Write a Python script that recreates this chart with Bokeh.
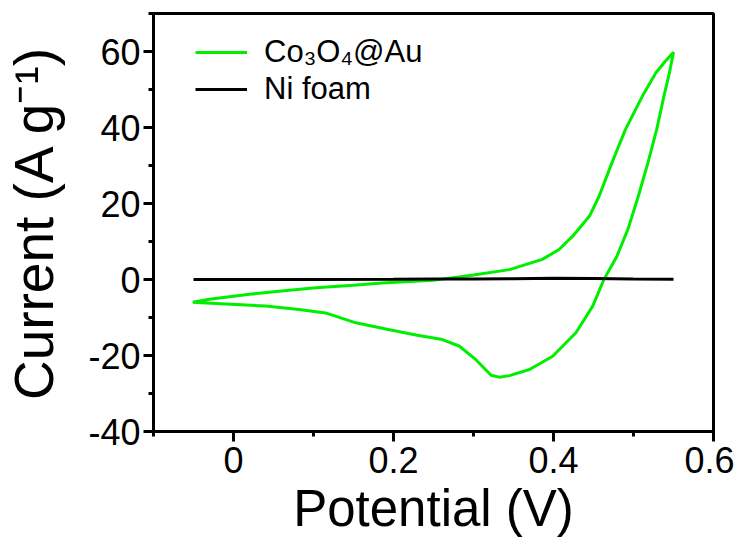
from bokeh.plotting import figure
from bokeh.models import FixedTicker, Legend, LegendItem, Range1d
from bokeh.embed import file_html
from bokeh.resources import INLINE

# Co3O4@Au cyclic voltammogram (anodic sweep, then cathodic sweep back)
co_x = [-0.051, -0.03, 0.02, 0.06, 0.103, 0.15, 0.186, 0.22, 0.249, 0.261, 0.30,
        0.345, 0.386, 0.407, 0.424, 0.445, 0.457, 0.473, 0.490, 0.511, 0.528, 0.540, 0.550,
        0.545, 0.538, 0.529, 0.518, 0.506, 0.493, 0.479, 0.463, 0.449, 0.428,
        0.399, 0.370, 0.345, 0.332, 0.322, 0.303, 0.282, 0.261, 0.228,
        0.195, 0.153, 0.115, 0.082, 0.04, -0.022, -0.051]
co_y = [-6.0, -5.2, -3.9, -3.0, -2.2, -1.5, -0.9, -0.5, -0.2, 0.1, 1.2,
        2.6, 5.3, 7.9, 11.4, 16.7, 21.9, 30.7, 39.5, 48.2, 54.4, 57.5, 59.8,
        54.5, 48.2, 39.5, 30.7, 21.9, 13.2, 6.0, 0.0, -7.0, -14.0,
        -20.2, -23.7, -25.3, -25.7, -25.2, -21.1, -17.5, -15.8, -14.6,
        -13.2, -11.4, -8.8, -7.9, -7.0, -6.3, -6.0]

# Ni foam background (nearly flat)
ni_x = [-0.05, 0.0, 0.1, 0.2, 0.25, 0.3, 0.35, 0.4, 0.45, 0.5, 0.55]
ni_y = [0.0, 0.0, 0.0, 0.05, 0.1, 0.15, 0.2, 0.3, 0.25, 0.1, 0.05]

x_ticks = [0, 0.2, 0.4, 0.6]
x_tick_labels = ["0", "0.2", "0.4", "0.6"]
x_minor = [-0.1, 0.1, 0.3, 0.5]
y_ticks = [-40, -20, 0, 20, 40, 60]
y_tick_labels = ["-40", "-20", "0", "20", "40", "60"]
y_minor = [-30, -10, 10, 30, 50, 70]

series_labels = ["Co\u2083O\u2084@Au", "Ni foam"]
x_label = "Potential (V)"
y_label = "Current (A g\u207b\u00b9)"

FONT = "Liberation Sans"

p = figure(frame_width=560, frame_height=418,
           x_range=Range1d(-0.1, 0.6), y_range=Range1d(-40, 70),
           output_backend="svg", toolbar_location=None,
           min_border_left=148, min_border_top=13, min_border_right=21,
           min_border_bottom=104)

p.xgrid.visible = False
p.ygrid.visible = False
p.outline_line_color = "black"
p.outline_line_width = 3
p.outline_line_alpha = 1.0

r1 = p.line(co_x, co_y, line_color="#00EE00", line_width=3)
r2 = p.line(ni_x, ni_y, line_color="black", line_width=3)

for ax, ticks, labels, minor, lab in [
    (p.xaxis[0], x_ticks, x_tick_labels, x_minor, x_label),
    (p.yaxis[0], y_ticks, y_tick_labels, y_minor, y_label),
]:
    ax.ticker = FixedTicker(ticks=ticks, minor_ticks=minor)
    ax.major_label_overrides = {t: l for t, l in zip(ticks, labels)}
    ax.axis_line_width = 3
    ax.major_tick_line_width = 3
    ax.minor_tick_line_width = 3
    ax.major_tick_out = 10
    ax.major_tick_in = 0
    ax.minor_tick_out = 5
    ax.minor_tick_in = 0
    ax.major_label_text_font = FONT
    ax.major_label_text_font_size = "36px"
    ax.major_label_text_color = "black"
    ax.axis_label = lab
    ax.axis_label_text_font = FONT
    ax.axis_label_text_font_style = "normal"
    ax.axis_label_text_color = "black"

p.xaxis[0].axis_label_text_font_size = "51px"
p.yaxis[0].axis_label_text_font_size = "55px"
p.xaxis[0].major_label_standoff = 5
p.xaxis[0].axis_label_standoff = 4
p.yaxis[0].major_label_standoff = 3
p.yaxis[0].axis_label_standoff = 20

legend_style = dict(glyph_width=52, glyph_height=28, label_height=28,
                    label_standoff=17, spacing=0, padding=0,
                    label_text_font=FONT, label_text_font_size="31px",
                    label_text_color="black",
                    border_line_alpha=0, background_fill_alpha=0)
legend1 = Legend(items=[LegendItem(label=series_labels[0], renderers=[r1])],
                 location=(42, 361), **legend_style)
legend2 = Legend(items=[LegendItem(label=series_labels[1], renderers=[r2])],
                 location=(42, 324), **legend_style)
p.add_layout(legend1)
p.add_layout(legend2)

open("out.html", "w").write(file_html(p, INLINE))
